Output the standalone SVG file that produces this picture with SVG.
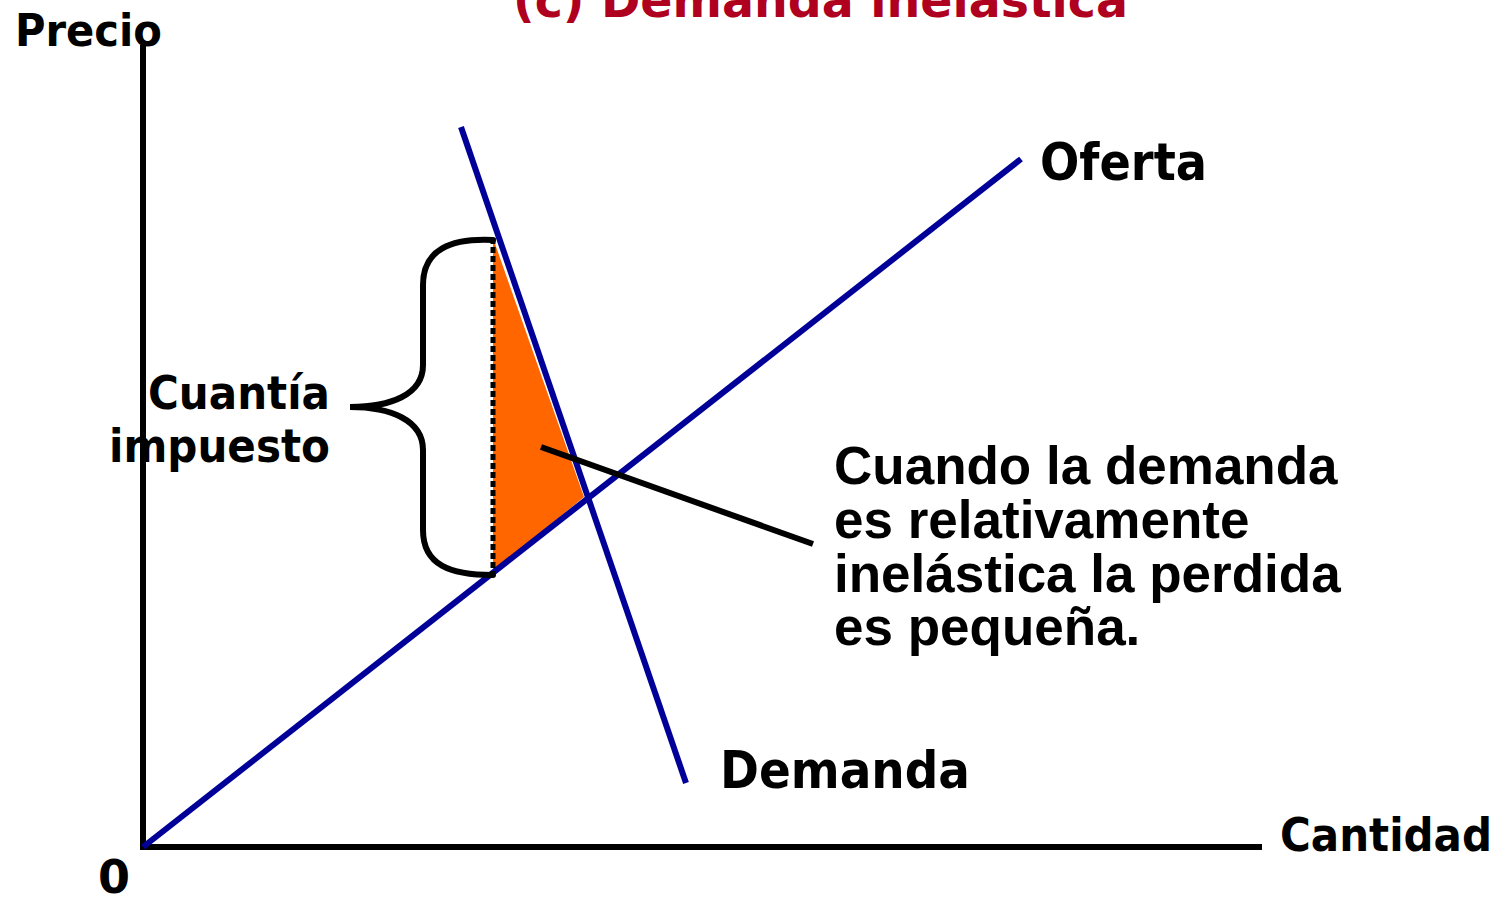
<svg xmlns="http://www.w3.org/2000/svg" width="1501" height="897" viewBox="0 0 1501 897">
<style>
.lbl{font-family:"DejaVu Sans",Verdana,sans-serif;font-weight:bold;fill:#000}
.note{font-family:"Liberation Sans",Arial,sans-serif;font-weight:bold;font-size:53px;fill:#000}
.curve{stroke:#000099;stroke-width:6;fill:none}
.blk{stroke:#000;stroke-width:6;fill:none}
</style>
<rect width="1501" height="897" fill="#fff"/>
<text class="lbl" x="513" y="17" font-size="48" style="fill:#B00020" textLength="615" lengthAdjust="spacingAndGlyphs">(c) Demanda inelástica</text>
<g id="area">
<polygon points="493,238 493,572 584,497" fill="#FF6600"/>
</g>
<g id="axes">
<line class="blk" x1="143" y1="45" x2="143" y2="850"/>
<line class="blk" x1="140" y1="847" x2="1262" y2="847"/>
</g>
<g id="connectors">
<line class="curve" x1="143" y1="847" x2="1021" y2="159"/>
<line class="curve" x1="461" y1="127" x2="686" y2="783"/>
<line x1="493" y1="238" x2="493" y2="572" stroke="#000" stroke-width="5" stroke-dasharray="6,3"/>
<path class="blk" stroke-width="6" stroke-linecap="round" d="M493,240 C450,238 423,250 423,285 L423,365 C423,395 390,407 350,407 C390,407 423,420 423,450 L423,530 C423,565 450,575 493,575"/>
<line class="blk" x1="541" y1="447" x2="813" y2="544"/>
</g>
<g id="labels">
<text class="lbl" x="15" y="46" font-size="44" textLength="147" lengthAdjust="spacingAndGlyphs">Precio</text>
<text class="lbl" x="1040" y="180" font-size="52" textLength="167" lengthAdjust="spacingAndGlyphs">Oferta</text>
<text class="lbl" x="720" y="788" font-size="52" textLength="250" lengthAdjust="spacingAndGlyphs">Demanda</text>
<text class="lbl" x="1280" y="851" font-size="46" textLength="212" lengthAdjust="spacingAndGlyphs">Cantidad</text>
<text class="lbl" x="98" y="893" font-size="46" textLength="32" lengthAdjust="spacingAndGlyphs">0</text>
<text class="lbl" x="148" y="409" font-size="46" textLength="182" lengthAdjust="spacingAndGlyphs">Cuantía</text>
<text class="lbl" x="109" y="462" font-size="46" textLength="221" lengthAdjust="spacingAndGlyphs">impuesto</text>
<text class="note" x="834" y="484">Cuando la demanda</text>
<text class="note" x="834" y="538">es relativamente</text>
<text class="note" x="834" y="592">inelástica la perdida</text>
<text class="note" x="834" y="645">es pequeña.</text>
</g>
</svg>
